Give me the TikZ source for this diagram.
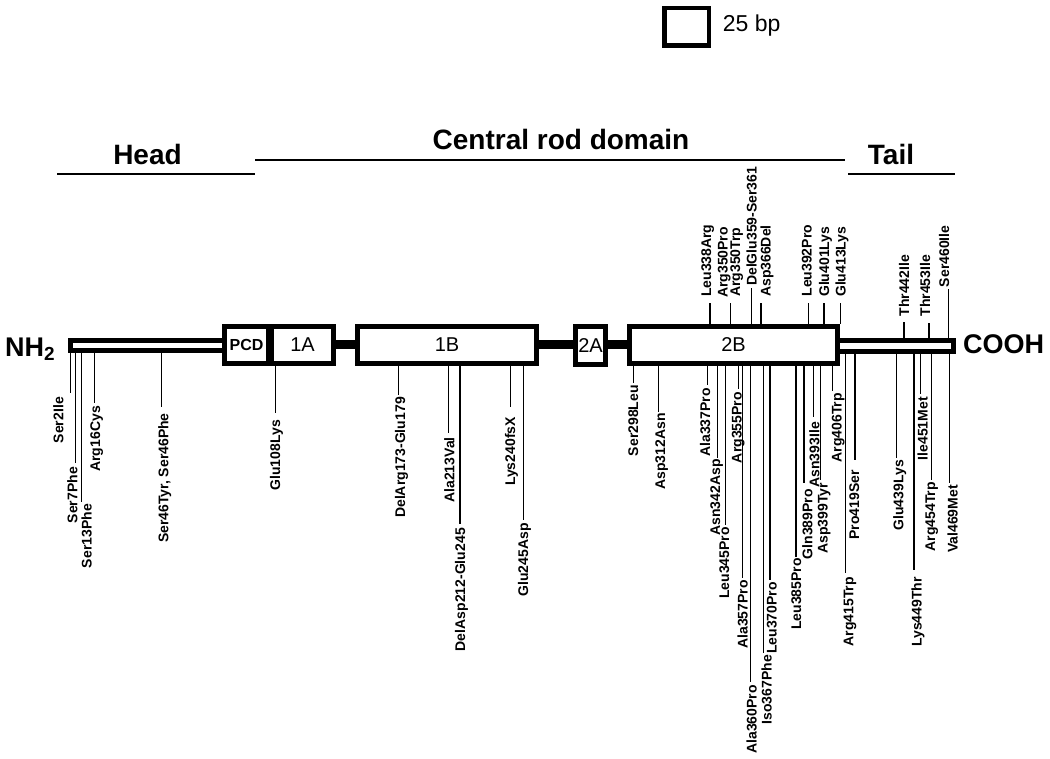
\documentclass[tikz,border=0pt]{standalone}
\usepackage{fontspec}
\setmainfont{Liberation Sans}
\tikzset{
  mlab/.style={font=\bfseries\fontsize{14}{14}\selectfont, inner sep=0pt, rotate=90},
  tick/.style={line width=1.3pt, black},
  dombox/.style={draw=black, fill=white, line width=5pt, inner sep=0pt, font=\fontsize{20}{20}\selectfont},
  link/.style={line width=9pt, black},
  hdr/.style={font=\bfseries\fontsize{28}{28}\selectfont, inner sep=0pt},
  hdrline/.style={line width=2pt, black},
  term/.style={font=\bfseries\fontsize{27}{27}\selectfont, inner sep=0pt}
}
\newcommand{\mutdn}[7]{%
  \coordinate (#1s) at (#2,#3);
  \coordinate (#1e) at (#2,#4);
  \node[mlab, anchor=base east] (#1) at ({#5+5},#6) {#7};
  \draw[tick] (#1s) -- (#1e);
}
\newcommand{\mutup}[7]{%
  \coordinate (#1s) at (#2,#3);
  \coordinate (#1e) at (#2,#4);
  \node[mlab, anchor=base west] (#1) at ({#5+5},#6) {#7};
  \draw[tick] (#1s) -- (#1e);
}
\begin{document}
\begin{tikzpicture}[x=1pt,y=-1pt]
\useasboundingbox (0,0) rectangle (1050,759);

% scale
\node[draw=black, line width=4.5pt, minimum width=44.5pt, minimum height=37.5pt, inner sep=0pt] (scalebox) at (686.5,27) {};
\node[font=\fontsize{23}{23}\selectfont, inner sep=0pt, anchor=base west] (scaletxt) at (722.7,32) {25 bp};

% headers
\node[hdr, anchor=base] (head) at (147.5,165) {Head};
\node[hdr, anchor=base] (rod) at (561,150) {Central rod domain};
\node[hdr, anchor=base] (tail) at (891,165) {Tail};
\coordinate (hA) at (57,174); \coordinate (hB) at (255,174);
\coordinate (rA) at (255,160); \coordinate (rB) at (845,160);
\coordinate (tA) at (848,174); \coordinate (tB) at (955,174);
\draw[hdrline] (hA) -- (hB);
\draw[hdrline] (rA) -- (rB);
\draw[hdrline] (tA) -- (tB);

% termini
\node[term, anchor=base west] (nh) at (5,356) {NH\textsubscript{2}};
\node[term, anchor=base west] (cooh) at (963,353.3) {COOH};

% domains
\node[dombox, minimum width=154.5pt, minimum height=10.5pt] (headbar) at (147.25,345.75) {};
\node[dombox, minimum width=116pt, minimum height=11.5pt] (tailbar) at (895.5,346.25) {};
\node[dombox, minimum width=44pt, minimum height=37pt, font=\bfseries\fontsize{16}{16}\selectfont] (pcd) at (246.5,345) {PCD};
\node[dombox, minimum width=62pt, minimum height=37pt] (b1A) at (302.5,345) {1A};
\node[dombox, minimum width=179pt, minimum height=37pt] (b1B) at (447,345) {1B};
\node[dombox, minimum width=30pt, minimum height=38pt] (b2A) at (590.5,345.5) {2A};
\node[dombox, minimum width=208pt, minimum height=37pt] (b2B) at (733.5,345) {2B};
\draw[link] (b1A.east) -- (b1B.west);
\draw[link] (b1B.east) -- (b1B.east -| b2A.west);
\draw[link] (b2A.east |- b2B.west) -- (b2B.west);

% head mutations (below)
\mutdn{m1}{70.7}{353.5}{393}{58.3}{397}{Ser2Ile}
\mutdn{m2}{75.7}{353.5}{463}{72.3}{467}{Ser7Phe}
\mutdn{m3}{81.7}{353.5}{502}{86.7}{504}{Ser13Phe}
\mutdn{m4}{94.3}{353.5}{403}{95}{406}{Arg16Cys}
\mutdn{m5}{161.7}{353.5}{407}{163.3}{413}{Ser46Tyr, Ser46Phe}
\mutdn{m6}{275.7}{366}{413}{275}{420}{Glu108Lys}
% 1B
\mutdn{m7}{398.3}{366}{395}{400}{397}{DelArg173-Glu179}
\mutdn{m8}{448.3}{366}{433}{449.3}{437}{Ala213Val}
\mutdn{m9}{460}{366}{524}{460}{528}{DelAsp212-Glu245}
\mutdn{m10}{510.7}{366}{407}{510}{417}{Lys240fsX}
\mutdn{m11}{523.3}{366}{520}{523}{523}{Glu245Asp}
% 2B below
\mutdn{m12}{633.3}{366}{383}{633}{385}{Ser298Leu}
\mutdn{m13}{658.3}{366}{412}{660}{413}{Asp312Asn}
\mutdn{m14}{707.7}{366}{385}{705}{388}{Ala337Pro}
\mutdn{m15}{717.7}{366}{458}{715}{459}{Asn342Asp}
\mutdn{m16}{725.7}{366}{525}{724}{527}{Leu345Pro}
\mutdn{m17}{738.3}{366}{389}{736.7}{392}{Arg355Pro}
\mutdn{m18}{742.7}{366}{578}{742.7}{580}{Ala357Pro}
\mutdn{m19}{750.7}{366}{682}{751.7}{685}{Ala360Pro}
\mutdn{m20}{763.3}{366}{653}{766.7}{655}{Iso367Phe}
\mutdn{m21}{770}{366}{580}{771.7}{582}{Leu370Pro}
\mutdn{m22}{796}{366}{557}{796}{558}{Leu385Pro}
\mutdn{m23}{804}{366}{483}{807.3}{489}{Gln389Pro}
\mutdn{m24}{813.3}{366}{417}{814.3}{422}{Asn393Ile}
\mutdn{m25}{820.7}{366}{480}{822.7}{483}{Asp399Tyr}
\mutdn{m26}{832.7}{366}{391}{836.7}{393}{Arg406Trp}
% tail below
\mutdn{m27}{845.3}{354.5}{573}{848.3}{577}{Arg415Trp}
\mutdn{m28}{855}{354.5}{460}{854}{470}{Pro419Ser}
\mutdn{m29}{896.7}{354.5}{458}{898.3}{460}{Glu439Lys}
\mutdn{m30}{914}{354.5}{570}{916.7}{577}{Lys449Thr}
\mutdn{m31}{920.7}{354.5}{394}{922.7}{397}{Ile451Met}
\mutdn{m32}{931.7}{354.5}{480}{930}{482}{Arg454Trp}
\mutdn{m33}{949.3}{354.5}{483}{952.7}{485}{Val469Met}

% above 2B
\mutup{u1}{710}{324}{302.7}{706}{297}{Leu338Arg}
\mutup{u2}{730.7}{324}{302.7}{722.7}{298}{Arg350Pro}
\node[mlab, anchor=base west] (u2b) at (740,297) {Arg350Trp};
\mutup{u3}{751.7}{324}{288}{751.7}{286}{DelGlu359-Ser361}
\mutup{u4}{761}{324}{302.7}{765.7}{297}{Asp366Del}
\mutup{u5}{808.3}{324}{302.7}{806.7}{296.7}{Leu392Pro}
\mutup{u6}{824}{324}{302.7}{824}{297}{Glu401Lys}
\mutup{u7}{840.7}{324}{303}{840.7}{297}{Glu413Lys}
% above tail
\mutup{u8}{904}{338}{321.7}{904}{316.7}{Thr442Ile}
\mutup{u9}{929}{338}{322.7}{925}{316.7}{Thr453Ile}
\mutup{u10}{948.3}{338}{289}{944}{287.3}{Ser460Ile}
\end{tikzpicture}
\end{document}
